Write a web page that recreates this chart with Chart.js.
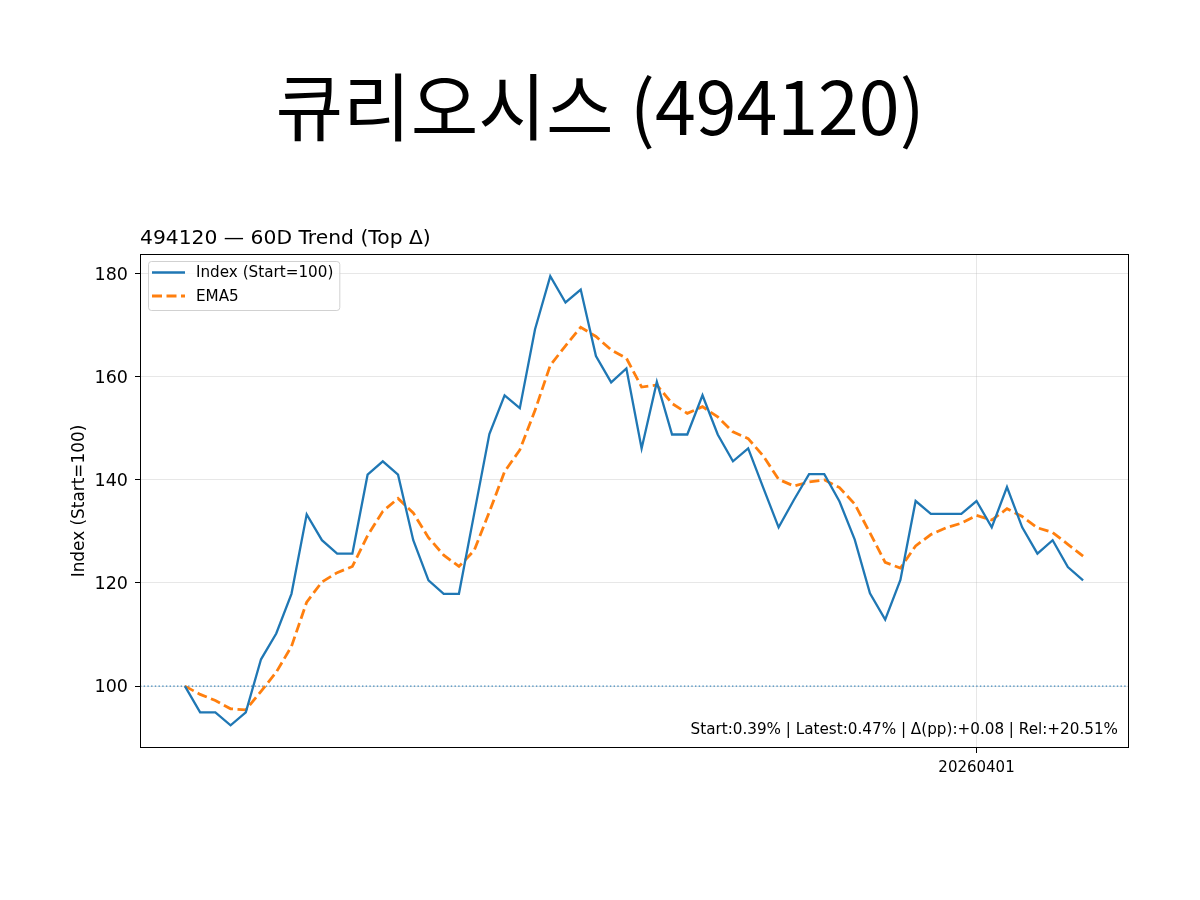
<!DOCTYPE html>
<html>
<head>
<meta charset="utf-8">
<script src="https://cdn.jsdelivr.net/npm/chart.js@4.4.1/dist/chart.umd.min.js"></script>
<style>
  body { margin: 0; background: #fff; }
  #wrap { width: 1200px; height: 900px; }
</style>
</head>
<body>
<div id="wrap"><canvas id="trendChart" width="1200" height="900"></canvas></div>
<script>
const chartTitle = '큐리오시스 (494120)';
const subTitle = '494120 — 60D Trend (Top Δ)';
const statsText = 'Start:0.39% | Latest:0.47% | Δ(pp):+0.08 | Rel:+20.51%';

// trading days, 60 sessions
const dates = [
  '20260113','20260114','20260115','20260116','20260119','20260120','20260121','20260122','20260123','20260126',
  '20260127','20260128','20260129','20260130','20260202','20260203','20260204','20260205','20260206','20260209',
  '20260210','20260211','20260212','20260213','20260219','20260220','20260223','20260224','20260225','20260226',
  '20260227','20260303','20260304','20260305','20260306','20260309','20260310','20260311','20260312','20260313',
  '20260316','20260317','20260318','20260319','20260320','20260323','20260324','20260325','20260326','20260327',
  '20260330','20260331','20260401','20260402','20260403','20260406','20260407','20260408','20260409','20260410'
];
const indexValues = [
  100.0, 94.9, 94.9, 92.4, 94.9, 105.2, 110.2, 117.9, 133.3, 128.3,
  125.7, 125.7, 141.0, 143.6, 141.0, 128.3, 120.5, 117.9, 117.9, 133.4,
  148.9, 156.4, 153.9, 169.2, 179.5, 174.4, 176.9, 164.0, 158.9, 161.6,
  146.1, 159.0, 148.8, 148.8, 156.4, 148.8, 143.6, 146.1, 138.4, 130.8,
  136.1, 141.1, 141.1, 135.8, 128.4, 118.0, 112.9, 120.6, 135.9, 133.4,
  133.4, 133.4, 135.9, 130.8, 138.6, 130.8, 125.7, 128.3, 123.1, 120.5
];
const ema5Values = [
  100.0, 98.4, 97.2, 95.6, 95.4, 99.0, 102.7, 107.7, 116.3, 120.2,
  122.0, 123.2, 129.2, 133.9, 136.4, 133.6, 128.8, 125.4, 123.2, 126.3,
  133.8, 141.6, 145.8, 153.5, 162.2, 166.0, 169.6, 167.8, 165.2, 163.6,
  158.0, 158.4, 154.8, 152.9, 154.2, 152.2, 149.3, 148.0, 144.6, 140.1,
  138.8, 139.6, 140.0, 138.5, 135.3, 129.7, 124.0, 122.9, 127.2, 129.4,
  130.7, 131.6, 133.1, 132.2, 134.4, 132.9, 130.7, 129.8, 127.5, 125.2
];
const yTicks = [100, 120, 140, 160, 180];
const xTickDates = ['20260401'];
const baseLevel = 100;

const blue = '#1f77b4';
const orange = '#ff7f0e';
const gridColor = 'rgba(176,176,176,0.3)';

function toPoints(values) {
  return values.map((v, i) => ({ x: i, y: v }));
}

// text, frame, baseline and legend drawn on top of the Chart.js layout
const decorPlugin = {
  id: 'decor',
  beforeDatasetsDraw(chart) {
    const { ctx, chartArea, scales } = chart;
    const y = scales.y.getPixelForValue(baseLevel);
    ctx.save();
    ctx.strokeStyle = 'rgba(31,119,180,0.85)';
    ctx.lineWidth = 1.1;
    ctx.setLineDash([1.4, 2.3]);
    ctx.beginPath();
    ctx.moveTo(chartArea.left, y);
    ctx.lineTo(chartArea.right, y);
    ctx.stroke();
    ctx.restore();
  },
  afterDraw(chart) {
    const { ctx, chartArea } = chart;
    ctx.save();
    // frame
    ctx.strokeStyle = '#000';
    ctx.lineWidth = 1;
    ctx.strokeRect(chartArea.left + 0.5, chartArea.top + 0.5, chartArea.width, chartArea.height - 1);

    // big title
    ctx.fillStyle = '#000';
    ctx.textAlign = 'center';
    ctx.textBaseline = 'middle';
    ctx.font = '73.5px "Noto Sans CJK KR"';
    ctx.fillText(chartTitle, chart.width / 2, 107);

    // axes title
    ctx.textAlign = 'left';
    ctx.textBaseline = 'alphabetic';
    ctx.font = '20.3px "DejaVu Sans"';
    ctx.fillText(subTitle, chartArea.left, chartArea.top - 10);

    // stats annotation
    ctx.textAlign = 'right';
    ctx.font = '15.2px "DejaVu Sans"';
    ctx.fillText(statsText, chartArea.right - 10, chartArea.bottom - 14);

    // legend
    ctx.font = '15.2px "DejaVu Sans"';
    const sets = chart.data.datasets;
    let maxW = 0;
    sets.forEach(ds => { maxW = Math.max(maxW, ctx.measureText(ds.label).width); });
    const bx = chartArea.left + 8, by = chartArea.top + 7;
    const textX = chartArea.left + 56;
    const bw = textX + maxW + 6 - bx, bh = 49;
    ctx.fillStyle = 'rgba(255,255,255,0.8)';
    ctx.strokeStyle = 'rgba(204,204,204,0.9)';
    ctx.beginPath();
    ctx.roundRect(bx + 0.5, by + 0.5, bw, bh, 3);
    ctx.fill();
    ctx.stroke();
    sets.forEach((ds, i) => {
      const ly = chartArea.top + 18.5 + i * 23.5;
      ctx.strokeStyle = ds.borderColor;
      ctx.lineWidth = ds.borderWidth;
      ctx.setLineDash(ds.borderDash || []);
      ctx.beginPath();
      ctx.moveTo(chartArea.left + 12, ly);
      ctx.lineTo(chartArea.left + 45, ly);
      ctx.stroke();
      ctx.setLineDash([]);
      ctx.fillStyle = '#000';
      ctx.textAlign = 'left';
      ctx.textBaseline = 'middle';
      ctx.fillText(ds.label, textX, ly + 1);
    });
    ctx.restore();
  }
};

const ctx = document.getElementById('trendChart').getContext('2d');
const chart = new Chart(ctx, {
  type: 'line',
  data: {
    datasets: [
      {
        label: 'Index (Start=100)',
        data: toPoints(indexValues),
        borderColor: blue,
        borderWidth: 2.3,
        pointRadius: 0,
        tension: 0,
        fill: false
      },
      {
        label: 'EMA5',
        data: toPoints(ema5Values),
        borderColor: orange,
        borderWidth: 2.8,
        borderDash: [10, 4.5],
        pointRadius: 0,
        tension: 0,
        fill: false
      }
    ]
  },
  options: {
    responsive: false,
    animation: false,
    layout: {
      padding: { top: 254, right: 72, bottom: 0, left: 0 }
    },
    scales: {
      x: {
        type: 'linear',
        min: -2.95,
        max: dates.length - 1 + 2.95,
        afterBuildTicks: (scale) => {
          scale.ticks = xTickDates.map(d => ({ value: dates.indexOf(d) }));
        },
        afterFit: (scale) => { scale.height = 152; },
        ticks: {
          autoSkip: false,
          maxRotation: 0,
          padding: 6,
          color: '#000',
          font: { family: 'DejaVu Sans', size: 15 },
          callback: (v) => dates[v]
        },
        grid: { color: gridColor, tickColor: '#000', tickLength: 5 },
        border: { display: false }
      },
      y: {
        min: 88.0,
        max: 183.8,
        afterBuildTicks: (scale) => {
          scale.ticks = yTicks.map(v => ({ value: v }));
        },
        afterFit: (scale) => { scale.width = 140; },
        ticks: {
          padding: 7,
          labelOffset: 1.5,
          color: '#000',
          font: { family: 'DejaVu Sans', size: 17.5 }
        },
        grid: { color: gridColor, tickColor: '#000', tickLength: 5 },
        border: { display: false },
        title: {
          display: true,
          text: 'Index (Start=100)',
          color: '#000',
          font: { family: 'DejaVu Sans', size: 16.9 },
          padding: { top: 69, bottom: 0 }
        }
      }
    },
    plugins: {
      legend: { display: false },
      tooltip: { enabled: false }
    }
  },
  plugins: [decorPlugin]
});
</script>
</body>
</html>
